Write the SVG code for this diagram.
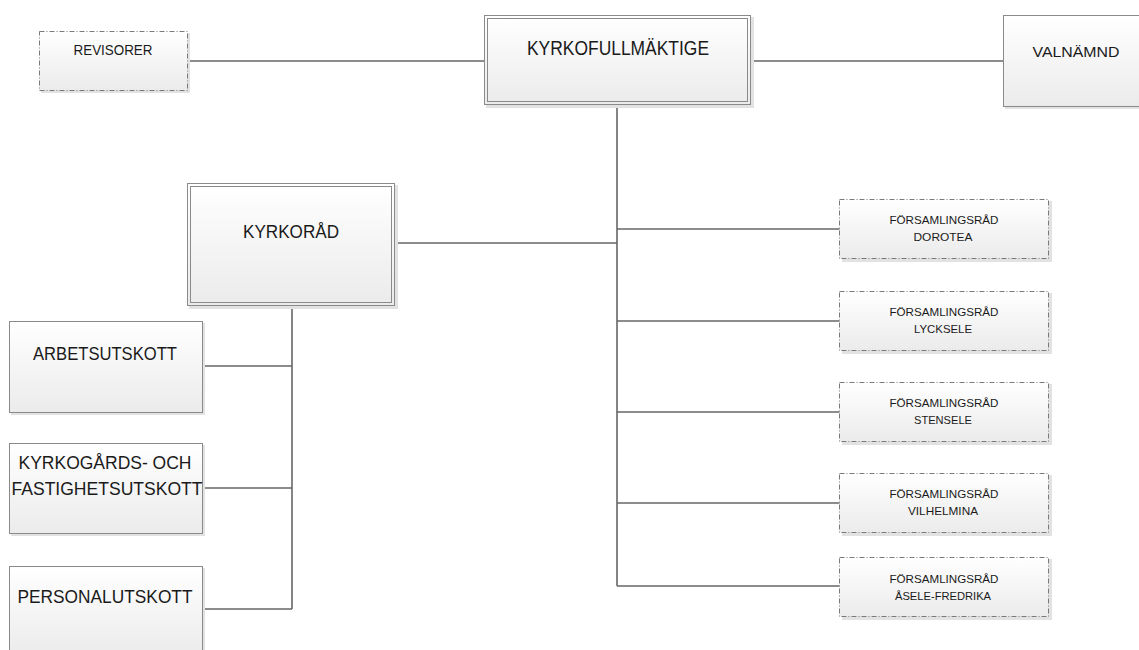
<svg xmlns="http://www.w3.org/2000/svg" width="1139" height="650" viewBox="0 0 1139 650">
<defs>
<linearGradient id="g" x1="0" y1="0" x2="0" y2="1">
<stop offset="0" stop-color="#ffffff"/>
<stop offset="1" stop-color="#ebebeb"/>
</linearGradient>
<style>
.sh{fill:#e2e2e2;stroke:none}
.box{fill:url(#g);stroke:#8a8a8a;stroke-width:1}
.dbl{fill:none;stroke:#8a8a8a;stroke-width:1}
.dash{fill:url(#g);stroke:#7a7a7a;stroke-width:1;stroke-dasharray:5 2 1 2}
.t{font-family:"Liberation Sans",Arial,sans-serif;fill:#1a1a1a;text-anchor:middle}
.c{stroke:#666;stroke-width:1.6;fill:none}
</style>
</defs>
<rect width="1139" height="650" fill="#ffffff"/>
<g id="connectors">
<line class="c" x1="188" y1="61" x2="484" y2="61"/>
<line class="c" x1="751" y1="61" x2="1003" y2="61"/>
<line class="c" x1="617" y1="105" x2="617" y2="586"/>
<line class="c" x1="395" y1="243" x2="617" y2="243"/>
<line class="c" x1="617" y1="229" x2="840" y2="229"/>
<line class="c" x1="617" y1="321" x2="840" y2="321"/>
<line class="c" x1="617" y1="412" x2="840" y2="412"/>
<line class="c" x1="617" y1="503" x2="840" y2="503"/>
<line class="c" x1="617" y1="586" x2="840" y2="586"/>
<line class="c" x1="292" y1="306" x2="292" y2="609"/>
<line class="c" x1="202" y1="366" x2="292" y2="366"/>
<line class="c" x1="202" y1="488" x2="292" y2="488"/>
<line class="c" x1="202" y1="609" x2="292" y2="609"/>
</g>
<g id="revisorer">
<rect class="sh" x="41" y="33" width="149" height="60"/>
<rect class="dash" x="39.5" y="31.5" width="148" height="59"/>
<text class="t" x="113" y="55" font-size="15" textLength="79" lengthAdjust="spacingAndGlyphs">REVISORER</text>
</g>
<g id="kyrkofullmaktige">
<rect class="sh" x="486" y="17" width="268" height="91"/>
<rect class="box" x="484.5" y="15.5" width="266" height="89"/>
<rect class="dbl" x="487.5" y="18.5" width="260" height="83"/>
<text class="t" x="618" y="55" font-size="20" textLength="182" lengthAdjust="spacingAndGlyphs">KYRKOFULLMÄKTIGE</text>
</g>
<g id="valnamnd">
<rect class="sh" x="1005" y="17" width="140" height="92"/>
<rect class="box" x="1003.5" y="15.5" width="140" height="91"/>
<text class="t" x="1076" y="57" font-size="15" textLength="87" lengthAdjust="spacingAndGlyphs">VALNÄMND</text>
</g>
<g id="kyrkorad">
<rect class="sh" x="189" y="185" width="209" height="124"/>
<rect class="box" x="187.5" y="183.5" width="207" height="122"/>
<rect class="dbl" x="190.5" y="186.5" width="201" height="116"/>
<text class="t" x="291" y="238" font-size="19" textLength="96" lengthAdjust="spacingAndGlyphs">KYRKORÅD</text>
</g>
<g id="arbetsutskott">
<rect class="sh" x="11" y="323" width="194" height="92"/>
<rect class="box" x="9.5" y="321.5" width="193" height="91"/>
<text class="t" x="105" y="360" font-size="18" textLength="144" lengthAdjust="spacingAndGlyphs">ARBETSUTSKOTT</text>
</g>
<g id="kyrkogards">
<rect class="sh" x="11" y="445" width="194" height="91"/>
<rect class="box" x="9.5" y="443.5" width="193" height="90"/>
<text class="t" x="105" y="469" font-size="18" textLength="173" lengthAdjust="spacingAndGlyphs">KYRKOGÅRDS- OCH</text>
<text class="t" x="107" y="495" font-size="18" textLength="191" lengthAdjust="spacingAndGlyphs">FASTIGHETSUTSKOTT</text>
</g>
<g id="personalutskott">
<rect class="sh" x="11" y="568" width="194" height="90"/>
<rect class="box" x="9.5" y="566.5" width="193" height="90"/>
<text class="t" x="105" y="603" font-size="18" textLength="175" lengthAdjust="spacingAndGlyphs">PERSONALUTSKOTT</text>
</g>
<g id="fr-dorotea">
<rect class="sh" x="842" y="201" width="210" height="61"/>
<rect class="dash" x="839.5" y="199.5" width="209" height="59"/>
<text class="t" x="944" y="224" font-size="11" textLength="109" lengthAdjust="spacingAndGlyphs">FÖRSAMLINGSRÅD</text>
<text class="t" x="943" y="241" font-size="11" textLength="59" lengthAdjust="spacingAndGlyphs">DOROTEA</text>
</g>
<g id="fr-lycksele">
<rect class="sh" x="842" y="293" width="210" height="61"/>
<rect class="dash" x="839.5" y="291.5" width="209" height="59"/>
<text class="t" x="944" y="316" font-size="11" textLength="109" lengthAdjust="spacingAndGlyphs">FÖRSAMLINGSRÅD</text>
<text class="t" x="943" y="333" font-size="11" textLength="58" lengthAdjust="spacingAndGlyphs">LYCKSELE</text>
</g>
<g id="fr-stensele">
<rect class="sh" x="842" y="384" width="210" height="61"/>
<rect class="dash" x="839.5" y="382.5" width="209" height="59"/>
<text class="t" x="944" y="407" font-size="11" textLength="109" lengthAdjust="spacingAndGlyphs">FÖRSAMLINGSRÅD</text>
<text class="t" x="943" y="424" font-size="11" textLength="58" lengthAdjust="spacingAndGlyphs">STENSELE</text>
</g>
<g id="fr-vilhelmina">
<rect class="sh" x="842" y="475" width="210" height="61"/>
<rect class="dash" x="839.5" y="473.5" width="209" height="59"/>
<text class="t" x="944" y="498" font-size="11" textLength="109" lengthAdjust="spacingAndGlyphs">FÖRSAMLINGSRÅD</text>
<text class="t" x="943" y="515" font-size="11" textLength="70" lengthAdjust="spacingAndGlyphs">VILHELMINA</text>
</g>
<g id="fr-asele">
<rect class="sh" x="842" y="559" width="210" height="61"/>
<rect class="dash" x="839.5" y="557.5" width="209" height="59"/>
<text class="t" x="944" y="583" font-size="11" textLength="109" lengthAdjust="spacingAndGlyphs">FÖRSAMLINGSRÅD</text>
<text class="t" x="943" y="600" font-size="11" textLength="96" lengthAdjust="spacingAndGlyphs">ÅSELE-FREDRIKA</text>
</g>
</svg>
